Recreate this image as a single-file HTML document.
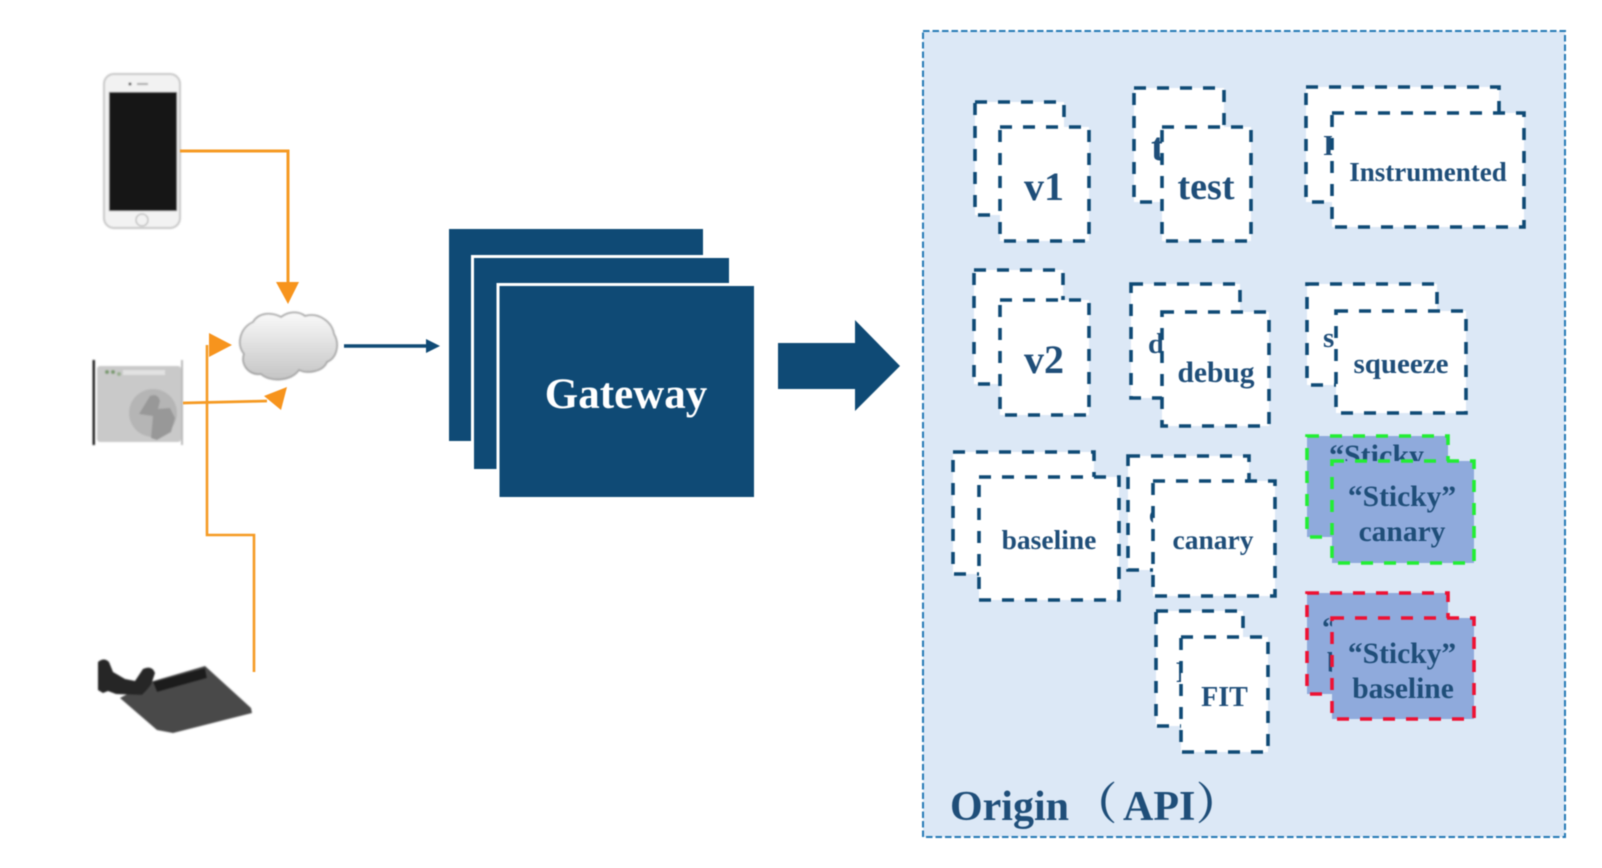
<!DOCTYPE html>
<html><head><meta charset="utf-8"><style>
html,body{margin:0;padding:0;background:#fff;width:1602px;height:868px;overflow:hidden}
svg{display:block;filter:blur(0.4px)}
text{font-family:"Liberation Serif","Noto Serif CJK SC",serif;font-weight:bold;fill:#1f4e79}
.d{fill:#fff;stroke:#0f4a75;stroke-width:3.6;stroke-dasharray:12 11}
.g{fill:#8faadc;stroke:#22ee33;stroke-width:3.6;stroke-dasharray:12 11}
.r{fill:#8faadc;stroke:#ee1133;stroke-width:3.6;stroke-dasharray:12 11}
</style></head><body>
<svg width="1602" height="868" viewBox="0 0 1602 868" xmlns="http://www.w3.org/2000/svg">
<defs>
<linearGradient id="c" x1="0" y1="0" x2="0" y2="1"><stop offset="0" stop-color="#fafafa"/><stop offset="1" stop-color="#c4c4c4"/></linearGradient>
<filter id="b" x="-10%" y="-10%" width="120%" height="120%"><feGaussianBlur stdDeviation="0.7"/></filter>
</defs>

<!-- phone -->
<g filter="url(#b)">
<rect x="104" y="74" width="76" height="154" rx="10" fill="#f2f2f2" stroke="#c8c8c8" stroke-width="2"/>
<rect x="109" y="92" width="68" height="119" fill="#141414"/>
<circle cx="142" cy="220" r="6" fill="#f2f2f2" stroke="#aaa"/>
<circle cx="130" cy="84" r="1.5" fill="#555"/><rect x="137" y="83" width="11" height="2" fill="#aaa"/>
</g>

<!-- browser -->
<g filter="url(#b)">
<rect x="92.500" y="360" width="2.500" height="85" fill="#222"/>
<rect x="181" y="360" width="2" height="85" fill="#bbb"/>
<rect x="97" y="366" width="84" height="76" rx="3" fill="#c9c9c9"/>
<rect x="123" y="370" width="42" height="5" fill="#e2e2e2"/>
<circle cx="107" cy="372" r="2" fill="#7a9a70"/><circle cx="113" cy="372" r="2" fill="#7a9a70"/><circle cx="119" cy="374" r="2" fill="#9ab090"/>
<circle cx="153" cy="413" r="24" fill="#b5b5b5"/>
<path d="M150 396 q8 -3 10 5 l-2 8 12 -1 5 10 -4 14 -14 8 -6 -2 2 -22 -14 -2 z" fill="#989898"/>
</g>

<!-- router -->
<g filter="url(#b)">
<polygon points="120,698 150,682 205,666 251,708 252,713 173,733 157,730" fill="#4a4a4a"/>
<polygon points="153,682 205,668 207,678 157,692" fill="#1a1a1a"/>
<path d="M98 662 q6 -5 11 0 l4 10 12 7 10 2 8 -12 q9 -4 12 4 l-4 12 -5 6 -4 4 -26 -1 -8 -3 -5 2 -5 -3 z" fill="#262626"/>
</g>

<!-- orange connectors -->
<g fill="none" stroke="#f59a23">
<path d="M180 151H288V284" stroke-width="3"/>
<path d="M254 672V535H207V345" stroke-width="2.600"/>
<path d="M183 403L267 401" stroke-width="2.800"/>
</g>
<g fill="#f7941d">
<polygon points="276,282 299,282 288,304"/>
<polygon points="209,333 209,357 232,345"/>
<polygon points="287,387 264,396 281,410"/>
</g>

<!-- cloud -->
<path filter="url(#b)" d="M253 322 C259 312 272 312 281 317 C289 311 299 311 305 316 C319 312 332 322 334 334 C340 344 337 358 327 362 C323 372 307 374 299 370 C291 382 269 382 261 374 C249 376 240 364 244 354 C236 344 240 328 253 322 Z" fill="url(#c)" stroke="#999" stroke-width="1.500"/>

<!-- small arrow -->
<path d="M344 346H428" stroke="#0f4a75" stroke-width="3.400" fill="none"/>
<polygon points="426,339 440,346 426,353" fill="#0f4a75"/>

<!-- gateway -->
<rect x="449" y="229" width="254" height="212" fill="#0f4a75"/>
<rect x="472.500" y="256.500" width="258" height="214" fill="#0f4a75" stroke="#fff" stroke-width="3"/>
<rect x="498" y="284.500" width="257.500" height="214" fill="#0f4a75" stroke="#fff" stroke-width="3"/>
<text x="626" y="408" font-size="43" text-anchor="middle" style="fill:#fff">Gateway</text>

<!-- big arrow -->
<polygon points="778,343 855,343 855,320 900,366 855,411 855,389 778,389" fill="#0f4a75"/>

<!-- origin box -->
<rect x="923" y="31" width="642" height="806" fill="#dce8f6" stroke="#2479b5" stroke-width="2" stroke-dasharray="6.500 3"/>

<!-- v1 -->
<rect class="d" x="975" y="102" width="89" height="113"/>
<rect class="d" x="1000" y="127" width="89" height="114"/>
<text x="1044" y="200" font-size="40" text-anchor="middle">v1</text>
<!-- test -->
<rect class="d" x="1134" y="88" width="90" height="114"/>
<text x="1151" y="160" font-size="40">t</text>
<rect class="d" x="1162" y="127" width="89" height="114"/>
<text x="1206" y="199" font-size="38" text-anchor="middle">test</text>
<!-- instrumented -->
<rect class="d" x="1306" y="87" width="193" height="115"/>
<text x="1323" y="155" font-size="28">I</text>
<rect class="d" x="1332" y="113" width="192" height="114"/>
<text x="1428" y="181" font-size="27" text-anchor="middle">Instrumented</text>
<!-- v2 -->
<rect class="d" x="974" y="270" width="89" height="114"/>
<rect class="d" x="1000" y="300" width="89" height="115"/>
<text x="1044" y="373" font-size="40" text-anchor="middle">v2</text>
<!-- debug -->
<rect class="d" x="1131" y="284" width="109" height="114"/>
<text x="1148" y="353" font-size="29">d</text>
<rect class="d" x="1162" y="312" width="107" height="114"/>
<text x="1216" y="382" font-size="29.500" text-anchor="middle">debug</text>
<!-- squeeze -->
<rect class="d" x="1307" y="284" width="130" height="101"/>
<text x="1323" y="347" font-size="29">s</text>
<rect class="d" x="1336" y="311" width="130" height="102"/>
<text x="1401" y="373" font-size="29" text-anchor="middle">squeeze</text>
<!-- baseline -->
<rect class="d" x="953" y="452" width="141" height="122"/>
<rect class="d" x="979" y="477" width="140" height="123"/>
<text x="1049" y="549" font-size="27.500" text-anchor="middle">baseline</text>
<!-- canary -->
<rect class="d" x="1128" y="456" width="121" height="114"/>
<text x="1149" y="523" font-size="27">c</text>
<rect class="d" x="1153" y="481" width="122" height="115"/>
<text x="1213" y="549" font-size="27.500" text-anchor="middle">canary</text>
<!-- FIT -->
<rect class="d" x="1156" y="611" width="87" height="115"/>
<text x="1176" y="682" font-size="30">F</text>
<rect class="d" x="1181" y="637" width="87" height="115"/>
<text x="1224.500" y="706" font-size="28" text-anchor="middle">FIT</text>
<!-- sticky canary -->
<rect class="g" x="1307" y="436" width="141" height="101"/>
<text x="1329" y="465" font-size="30">“Sticky</text>
<rect class="g" x="1332" y="461" width="142" height="102"/>
<text x="1402" y="506" font-size="29.500" text-anchor="middle">“Sticky”</text>
<text x="1402" y="541" font-size="29.500" text-anchor="middle">canary</text>
<!-- sticky baseline -->
<rect class="r" x="1307" y="593" width="141" height="101"/>
<text x="1322" y="637" font-size="29">“</text>
<text x="1327" y="672" font-size="29">b</text>
<rect class="r" x="1332" y="618" width="142" height="101"/>
<text x="1402" y="663" font-size="29.500" text-anchor="middle">“Sticky”</text>
<text x="1403" y="698" font-size="29.500" text-anchor="middle">baseline</text>

<text x="950" y="820" font-size="42">Origin</text>
<text x="1073" y="819" font-size="44">（</text>
<text x="1123" y="820" font-size="42">API</text>
<text x="1196" y="819" font-size="44">）</text>
</svg>
</body></html>
